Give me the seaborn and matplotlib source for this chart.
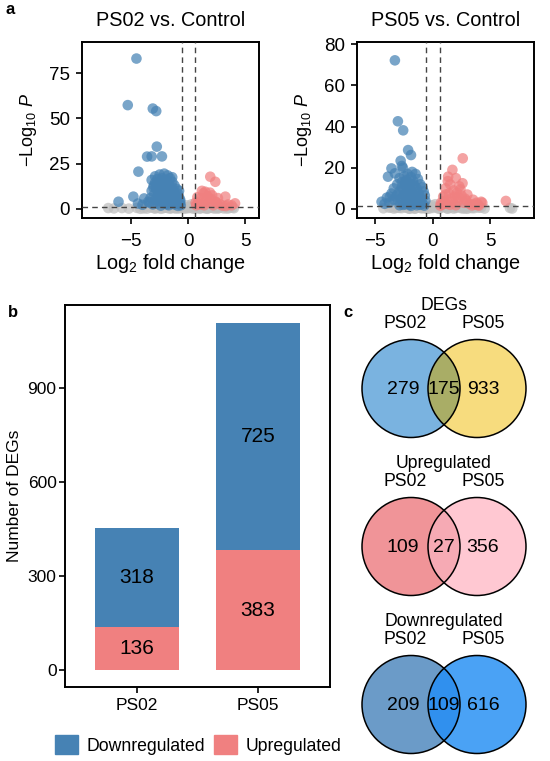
import numpy as np
import pandas as pd
import matplotlib
matplotlib.use("Agg")
import matplotlib.pyplot as plt
from matplotlib.patches import Circle, Patch
import seaborn as sns

# ---------------- data ----------------
# PS02 vs Control volcano
ps02_down_x = [-4.53, -5.29, -3.1, -2.8, -2.75, -3.6, -3.2, -2.3, -4.36, -6.1, -4.8, -3.86, -4.4, -3.2, -3.05,
               -2.5, -2.1, -1.8, -2.3, -1.6, -2.7, -1.9, -2.4, -1.4, -2.9, -2.0, -1.7, -2.6, -1.2, -3.0,
               -2.2, -1.9, -2.8, -1.5, -1.0, -2.4, -3.2, -2.1, -1.7, -1.2, -2.6, -0.9, -3.0, -2.3, -1.9,
               -1.5, -2.7, -1.1, -0.8, -2.1, -3.3, -1.7, -2.5, -1.3, -0.7, -2.9, -1.9, -2.3, -1.0, -3.5,
               -1.5, -0.75, -2.7, -2.0, -1.2, -3.1, -4.0, -0.65, -1.7, -2.4, -0.9, -2.2, -1.4, -2.0, -1.6,
               -2.5, -1.1, -1.8, -2.9, -0.8, -1.3, -2.0, -1.6, -2.2, -1.0, -0.7, -1.4, -2.6, -3.4, -1.8]
ps02_down_y = [83, 57.3, 55.4, 54, 34.4, 28.9, 29, 29, 20.6, 4, 6.8, 5.8, 3, 16, 12,
               19, 19.5, 18.5, 17, 17, 16.5, 16, 15, 15, 14.5, 14, 13.5, 13, 13, 13,
               12.5, 11.5, 11, 11, 11, 10.5, 10, 10, 9.5, 9, 9, 8.5, 8, 8, 7.5,
               7.5, 7, 7, 6.5, 6.5, 6, 6, 5.5, 5.5, 5, 5, 4.5, 4, 4, 4,
               3.5, 3, 3, 2.8, 2.5, 2.5, 2.3, 2, 2, 1.8, 1.7, 15.5, 12, 9, 4,
               12, 5, 2.5, 18, 10, 7.5, 3.5, 10.5, 6, 3.2, 4, 17.5, 4.5, 3.5, 13]
ps02_up_x = [1.93, 2.37, 1.34, 3.25, 4.1, 0.9, 1.1, 1.5, 1.7, 2.0, 1.3, 2.4, 2.8, 0.7, 1.0,
             1.8, 2.2, 3.0, 3.5, 2.6, 1.6, 0.8, 1.2, 1.9, 2.1, 2.5, 3.3, 3.8, 1.4, 0.65]
ps02_up_y = [17.8, 15, 8.7, 6.8, 3.1, 4, 6, 9.5, 7, 5.5, 3, 4, 2.5, 2, 2.5,
             3.5, 2, 1.8, 2.5, 6, 5, 6.5, 10, 9, 7.5, 3.5, 1.6, 2, 2, 3.5]
ps02_ns_x = [-7.0, -5.8, -4.5, -3.9, -3.3, -2.9, -2.6, -2.2, -1.9, -1.6, -1.3, -1.0, -0.8, -0.5, -0.3,
             0.0, 0.2, 0.4, 0.7, 1.0, 1.3, 1.6, 1.9, 2.3, 2.7, 3.1, 3.6, 4.0, -0.1, 0.3,
             -2.4, -1.8, -1.1, -0.6, 0.5, 1.1, 1.7, 2.5, -3.6, 0.1,
             -6.5, -5.2, -4.2, -3.0, -2.0, -1.4, -0.9, -0.4, 0.6, 1.4, 2.1, 2.9, 3.4, 3.9,
             -2.7, -1.5, -0.2, 0.8, 1.8, 2.6]
ps02_ns_y = [0.5, 0.5, 0.6, 0.3, 0.8, 0.2, 1.0, 0.4, 0.9, 0.2, 0.6, 1.1, 0.3, 0.7, 0.1,
             0.4, 1.0, 0.2, 0.6, 0.1, 0.8, 0.3, 0.9, 0.2, 0.6, 0.3, 0.5, 0.4, 2.0, 2.6,
             0.1, 0.5, 0.2, 1.2, 1.1, 0.5, 0.1, 1.0, 0.2, 0.9,
             0.3, 0.2, 0.1, 0.5, 0.7, 0.9, 0.5, 1.1, 0.2, 0.4, 0.6, 0.9, 0.2, 0.8,
             0.6, 0.4, 0.8, 1.0, 0.6, 0.2]

# PS05 vs Control volcano
ps05_down_x = [-3.3, -3.04, -2.58, -2.15, -1.9, -2.8, -2.7, -3.6, -3.9, -3.3, -4.46, -3.74, -2.6,
               -1.8, -2.2, -1.5, -2.5, -1.9, -2.9, -1.3, -2.3, -1.7, -2.7, -2.0, -1.1, -3.1, -2.4,
               -1.6, -0.9, -2.1, -3.4, -1.4, -2.6, -1.9, -0.8, -2.9, -2.2, -1.2, -3.6, -1.7, -2.5,
               -0.7, -2.0, -3.2, -1.5, -4.0, -2.8, -1.0, -2.3, -0.65, -1.8, -3.0, -1.3, -2.6, -3.8,
               -2.1, -1.6, -0.9, -2.4, -1.1, -2.0, -1.4, -2.9, -0.75, -1.9,
               -2.4, -1.7, -2.1, -1.4, -2.7, -3.1, -1.2, -2.3, -1.8, -3.4, -4.2, -1.0, -2.6]
ps05_down_y = [72.2, 42.6, 38.2, 28.6, 26.2, 23.4, 20.9, 19.7, 15.7, 17.3, 3.5, 6.0, 20,
               18, 17, 17, 16, 15.5, 15, 14.5, 14, 13.5, 13, 12.5, 12, 12, 11.5,
               11, 10.5, 10.5, 10, 10, 9.5, 9, 8.5, 8.5, 8, 7.5, 7.5, 7, 7,
               6.5, 6, 6, 5.5, 5.5, 5, 5, 4.5, 4, 4, 4, 3.5, 3, 3,
               2.8, 2.5, 2.5, 2.2, 2, 2, 1.8, 1.8, 1.6, 1.5,
               13, 12, 9, 8, 10.5, 7, 6, 5, 3, 4.5, 2.5, 3.5, 2]
ps05_up_x = [2.6, 1.7, 2.0, 2.58, 6.35, 4.2, 1.33, 1.5, 1.1, 2.3, 0.9, 1.8, 3.0, 0.7, 2.1,
             1.4, 2.8, 3.5, 1.0, 1.9, 2.5, 3.8, 0.8, 1.6, 2.2, 3.2, 4.3, 1.2, 2.7, 3.9,
             0.65, 1.5, 2.0, 3.4, 4.0, 1.3, 2.4, 1.7, 2.9, 1.1, 3.6, 2.2, 0.9]
ps05_up_y = [24.6, 19, 15, 12.5, 3.9, 3.5, 15.7, 12, 10, 11, 6, 9, 7, 3, 8,
             7.5, 5, 4.5, 4, 6, 6.5, 3, 2, 5, 4, 2.5, 3, 2.5, 3, 2,
             1.6, 2, 1.8, 1.7, 1.6, 13.5, 9.5, 3.5, 4, 7, 2.2, 5.5, 3.5]
ps05_ns_x = [-4.3, -3.8, -3.4, -3.0, -2.7, -2.4, -2.1, -1.8, -1.5, -1.2, -0.9, -0.6, -0.3, 0.0, 0.3,
             0.6, 0.9, 1.2, 1.5, 1.8, 2.1, 2.4, 2.8, 3.2, 3.6, 4.0, 4.5, 6.7, -0.1, 0.2,
             -2.0, -1.0, 0.5, 1.0, 2.0, 3.0, -3.2, -0.5,
             -3.6, -2.9, -2.3, -1.6, -1.1, -0.7, -0.2, 0.4, 1.3, 1.9, 2.6, 3.4, 4.2, 6.9]
ps05_ns_y = [0.3, 0.6, 0.2, 0.9, 0.4, 1.0, 0.2, 0.7, 0.3, 1.1, 0.5, 0.8, 0.2, 0.5, 1.0,
             0.3, 0.9, 0.4, 0.6, 0.2, 1.0, 0.5, 0.3, 0.8, 0.4, 0.6, 0.2, 0.5, 1.8, 2.3,
             0.1, 0.3, 0.1, 1.1, 0.5, 0.1, 0.5, 0.1,
             0.8, 0.5, 0.6, 0.1, 0.7, 0.3, 1.1, 0.6, 0.1, 0.9, 0.2, 0.4, 0.7, 0.2]

# bar chart
groups = ["PS02", "PS05"]
down_counts = [318, 725]
up_counts = [136, 383]

# venn diagrams
venn_titles = ["DEGs", "Upregulated", "Downregulated"]
venn_left_only = [279, 109, 209]
venn_shared = [175, 27, 109]
venn_right_only = [933, 356, 616]

# ---------------- style ----------------
sns.set_style("ticks")
plt.rcParams["font.family"] = ["Liberation Sans", "DejaVu Sans"]
plt.rcParams["mathtext.fontset"] = "custom"
plt.rcParams["mathtext.rm"] = "Liberation Sans"
plt.rcParams["mathtext.it"] = "Liberation Sans:italic"
plt.rcParams["text.color"] = "black"
plt.rcParams["axes.labelcolor"] = "black"
plt.rcParams["axes.edgecolor"] = "black"
plt.rcParams["axes.linewidth"] = 1.4
plt.rcParams["xtick.color"] = "black"
plt.rcParams["ytick.color"] = "black"
plt.rcParams["xtick.labelcolor"] = "black"
plt.rcParams["ytick.labelcolor"] = "black"
plt.rcParams["xtick.major.width"] = 1.2
plt.rcParams["ytick.major.width"] = 1.2
plt.rcParams["xtick.major.size"] = 4
plt.rcParams["ytick.major.size"] = 4

BLUE = "#4682b4"
RED = "#f08080"
GREY = "#bebebe"

fig = plt.figure(figsize=(5.5, 7.61), dpi=100)


def volcano(ax, dx, dy, ux, uy, nx, ny, title, xlim, ylim, yticks):
    df = pd.DataFrame({
        "lfc": list(nx) + list(dx) + list(ux),
        "nlp": list(ny) + list(dy) + list(uy),
        "grp": ["ns"] * len(nx) + ["down"] * len(dx) + ["up"] * len(ux),
    })
    sns.scatterplot(data=df, x="lfc", y="nlp", hue="grp",
                    palette={"ns": GREY, "down": BLUE, "up": RED},
                    s=58, alpha=0.72, linewidth=0, legend=False, ax=ax)
    for v in (-0.58, 0.58):
        ax.axvline(v, color="#444444", ls=(0, (4, 3)), lw=1.0, zorder=5)
    ax.axhline(1.3, color="#444444", ls=(0, (4, 3)), lw=1.0, zorder=5)
    ax.set_xlim(*xlim)
    ax.set_ylim(*ylim)
    ax.set_xticks([-5, 0, 5])
    ax.set_xticklabels(["\u22125", "0", "5"])
    ax.set_yticks(yticks)
    ax.tick_params(axis="y", labelsize=13.5, pad=4.5)
    ax.tick_params(axis="x", labelsize=13.5, pad=7)
    ax.set_xlabel(r"$\mathrm{Log}_{2}$ fold change", fontsize=14.3, labelpad=1)
    ax.set_ylabel(r"$\mathrm{-Log}_{10}\ \mathit{P}$", fontsize=13, labelpad=7)
    ax.set_title(title, fontsize=14.3, pad=12)


ax1 = fig.add_axes([0.149, 0.7135, 0.322, 0.231])
volcano(ax1, ps02_down_x, ps02_down_y, ps02_up_x, ps02_up_y, ps02_ns_x, ps02_ns_y,
        "PS02 vs. Control", (-9.3, 6.2), (-5, 92), [0, 25, 50, 75])

ax2 = fig.add_axes([0.649, 0.7135, 0.322, 0.231])
volcano(ax2, ps05_down_x, ps05_down_y, ps05_up_x, ps05_up_y, ps05_ns_x, ps05_ns_y,
        "PS05 vs. Control", (-6.6, 8.8), (-4.4, 81), [0, 20, 40, 60, 80])

# ---------------- bar chart ----------------
ax3 = fig.add_axes([0.118, 0.0972, 0.482, 0.502])
totals = [d + u for d, u in zip(down_counts, up_counts)]
bdf = pd.DataFrame({"group": groups, "total": totals, "up": up_counts, "down": down_counts})
sns.barplot(data=bdf, x="group", y="total", color=BLUE, saturation=1, width=0.7,
            linewidth=0, ax=ax3)
sns.barplot(data=bdf, x="group", y="up", color=RED, saturation=1, width=0.7,
            linewidth=0, ax=ax3)
for i, (d, u) in enumerate(zip(down_counts, up_counts)):
    ax3.text(i, u / 2, str(u), ha="center", va="center", fontsize=15)
    ax3.text(i, u + d / 2, str(d), ha="center", va="center", fontsize=15)
ax3.set_xlim(-0.595, 1.595)
ax3.set_ylim(-54, 1165)
ax3.set_yticks([0, 300, 600, 900])
ax3.tick_params(axis="y", labelsize=12.5, pad=2)
ax3.tick_params(axis="x", labelsize=12.5, pad=4)
ax3.set_xlabel("")
ax3.set_ylabel("Number of DEGs", fontsize=12.5, labelpad=4)
handles = [Patch(color=BLUE, label="Downregulated"), Patch(color=RED, label="Upregulated")]
fig.legend(handles=handles, loc="center", bbox_to_anchor=(0.36, 0.021), ncol=2,
           frameon=False, fontsize=12.7, handlelength=1.3, handleheight=1.3,
           handletextpad=0.5, columnspacing=0.5)

# ---------------- venn diagrams ----------------
ax4 = fig.add_axes([360 / 550, 0, 190 / 550, 471 / 761])
ax4.set_xlim(360, 550)
ax4.set_ylim(761, 290)
ax4.axis("off")
venn_cols = [("#7ab3e0", "#f7dc7e", "#a9ad66"),
             ("#f09498", "#ffc8d2", "#f6aab4"),
             ("#6b9bc8", "#4aa2f5", "#3090ee")]
centers_y = [388.5, 546.5, 704.5]
lx, rx, r = 411, 477, 49
for k in range(3):
    cy = centers_y[k]
    c_left, c_right, c_mid = venn_cols[k]
    ax4.add_patch(Circle((lx, cy), r, facecolor=c_left, edgecolor="none"))
    ax4.add_patch(Circle((rx, cy), r, facecolor=c_right, edgecolor="none"))
    mid = Circle((lx, cy), r, facecolor=c_mid, edgecolor="none")
    ax4.add_patch(mid)
    clip = Circle((rx, cy), r, transform=ax4.transData)
    mid.set_clip_path(clip)
    ax4.add_patch(Circle((lx, cy), r, facecolor="none", edgecolor="black", lw=1.1))
    ax4.add_patch(Circle((rx, cy), r, facecolor="none", edgecolor="black", lw=1.1))
    ax4.text(403, cy + 1, str(venn_left_only[k]), ha="center", va="center", fontsize=14)
    ax4.text(444, cy + 1, str(venn_shared[k]), ha="center", va="center", fontsize=14)
    ax4.text(483, cy + 1, str(venn_right_only[k]), ha="center", va="center", fontsize=14)
    ax4.text(444, cy - 83, venn_titles[k], ha="center", va="center", fontsize=12.7)
    ax4.text(405, cy - 65, groups[0], ha="center", va="center", fontsize=12.7)
    ax4.text(483, cy - 65, groups[1], ha="center", va="center", fontsize=12.7)

# panel labels
fig.text(5 / 550, 1 - 9 / 761, "a", fontsize=12, fontweight="bold", va="center")
fig.text(8 / 550, 1 - 312 / 761, "b", fontsize=12, fontweight="bold", va="center")
fig.text(343 / 550, 1 - 312 / 761, "c", fontsize=12, fontweight="bold", va="center")

fig.savefig("out.png", dpi=100)
